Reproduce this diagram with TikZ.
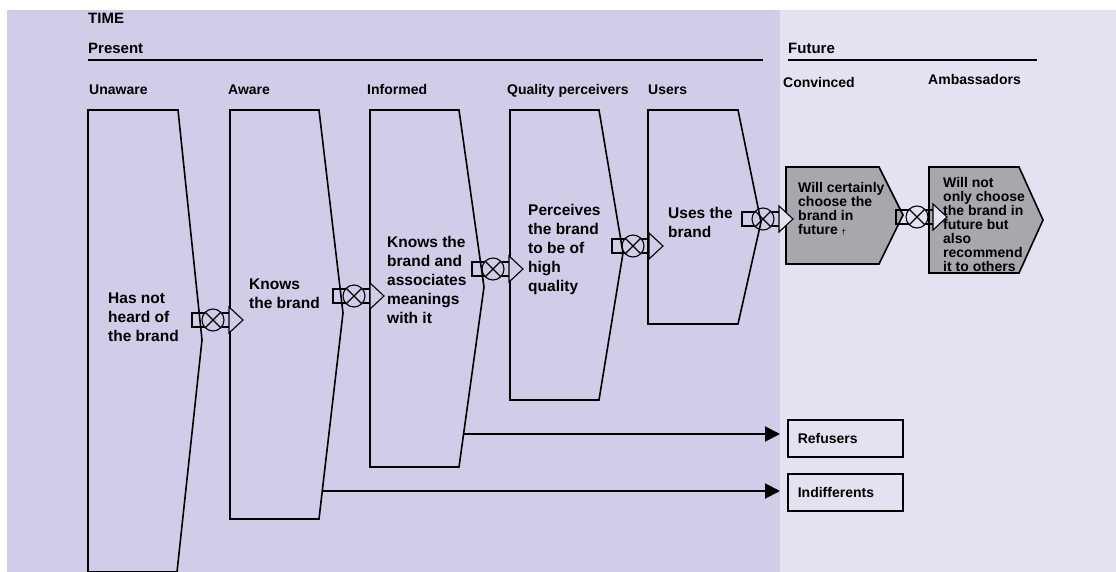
\documentclass[tikz,border=0pt]{standalone}
\usepackage{fontspec}
\setmainfont{Liberation Sans}
\usetikzlibrary{arrows.meta}
\definecolor{presentbg}{RGB}{208,205,232}
\definecolor{futurebg}{RGB}{228,226,241}
\definecolor{stockgray}{RGB}{168,167,173}
\begin{document}
\begin{tikzpicture}[x=1pt,y=-1pt,
		stage/.style={draw,line width=1.6pt,line join=miter},
		heading/.style={anchor=base west,inner sep=0pt,font=\fontsize{15}{18}\selectfont\bfseries},
		phase/.style={anchor=base west,inner sep=0pt,font=\fontsize{14}{16}\selectfont\bfseries},
		body/.style={anchor=west,inner sep=0pt,align=left,font=\fontsize{15.5}{19}\selectfont\bfseries},
		small/.style={anchor=west,inner sep=0pt,align=left,font=\fontsize{14}{14}\selectfont\bfseries},
		outcome/.style={draw,line width=1.6pt,anchor=west,minimum height=37pt,text width=95pt,inner xsep=10pt,inner ysep=0pt,font=\fontsize{14}{16}\selectfont\bfseries},
		leak/.style={line width=2pt,-{Triangle[length=15pt,width=15pt]},shorten >=7pt},
		valve/.pic={
				\draw[line width=1.1pt] (12.5,-7) -- (0,-7) -- (0,7) -- (12.5,7)
				(29.5,-7) -- (37,-7) (29.5,7) -- (37,7);
				\draw[line width=1.1pt,fill=#1] (37,-13) -- (51,0) -- (37,13) -- cycle;
				\draw[line width=1.1pt] (21,0) circle[radius=11pt] +(45:11) -- +(225:11) +(135:11) -- +(-45:11);
			}
	]
	\useasboundingbox (0,0) rectangle (1116,572);
	\fill[white] (0,0) rectangle (1116,572);
	\fill[presentbg] (7,10) rectangle (780,572);
	\fill[futurebg] (780,10) rectangle (1116,572);

	\node[heading] (time) at (88,24) {TIME};
	\node[heading] (present) at (88,54) {Present};
	\node[heading] (future) at (788,53.5) {Future};
	\draw[line width=2.5pt] (present.base west) ++(0,6) coordinate (present rule) -- (763,60);
	\draw[line width=2.5pt] (future.base west) ++(0,6.5) coordinate (future rule) -- (1037,60);

	\node[phase] (unaware label) at (89,95) {Unaware};
	\node[phase] (aware label) at (228,95) {Aware};
	\node[phase] (informed label) at (367,95) {Informed};
	\node[phase] (quality label) at (507,95) {Quality perceivers};
	\node[phase] (users label) at (648,95) {Users};
	\node[phase] (convinced label) at (783,88) {Convinced};
	\node[phase] (ambassadors label) at (928,85) {Ambassadors};

	\draw[stage] (88,110) -- (178,110) -- (202,340) coordinate (unaware tip) -- (177,572) -- (88,572) -- cycle;
	\draw[stage] (230,110) -- (319,110) -- (343,313) coordinate (aware tip) -- (319,519) -- (230,519) -- cycle;
	\draw[stage] (370,110) -- (459,110) -- (484,287) coordinate (informed tip) -- (459,467) -- (370,467) -- cycle;
	\draw[stage] (510,110) -- (599,110) -- (623,253) coordinate (quality tip) -- (599,400) -- (510,400) -- cycle;
	\draw[stage] (648,110) -- (738,110) -- (761,222) coordinate (users tip) -- (738,324) -- (648,324) -- cycle;
	\draw[stage,fill=stockgray] (786,167) -- (879,167) -- (903,215) coordinate (convinced tip) -- (879,264) -- (786,264) -- cycle;
	\draw[stage,fill=stockgray] (929,167) -- (1019,167) -- (1043,220) coordinate (ambassadors tip) -- (1019,273) -- (929,273) -- cycle;

	\pic (flow1) at (192,320) {valve=presentbg};
	\pic (flow2) at (333,296) {valve=presentbg};
	\pic (flow3) at (472,269) {valve=presentbg};
	\pic (flow4) at (612,246) {valve=presentbg};
	\pic (flow5) at (742,219) {valve=futurebg};
	\pic (flow6) at (896,217) {valve=futurebg};

	\node[body] (unaware) at (108,317) {Has not\\heard of\\the brand};
	\node[body] (aware) at (249,294) {Knows\\the brand};
	\node[body] (informed) at (387,280) {Knows the\\brand and\\associates\\meanings\\with it};
	\node[body] (quality) at (528,249.5) {Perceives\\the brand\\to be of\\high\\quality};
	\node[body] (users) at (668,222.5) {Uses the\\brand};
	\node[small] (convinced) at (798,208.5) {Will certainly\\choose the\\brand in\\future {\fontsize{7}{7}\selectfont\textdagger}};
	\node[small] (ambassadors) at (943,224) {Will not\\only choose\\the brand in\\future but\\also\\recommend\\it to others};

	\node[outcome] (refusers) at (787,438.5) {Refusers};
	\node[outcome] (indifferents) at (787,492.5) {Indifferents};
	\coordinate (informed out) at (464,434);
	\coordinate (aware out) at (322,491);
	\draw[leak] (informed out) -- (informed out -| refusers.west);
	\draw[leak] (aware out) -- (aware out -| indifferents.west);
\end{tikzpicture}
\end{document}
